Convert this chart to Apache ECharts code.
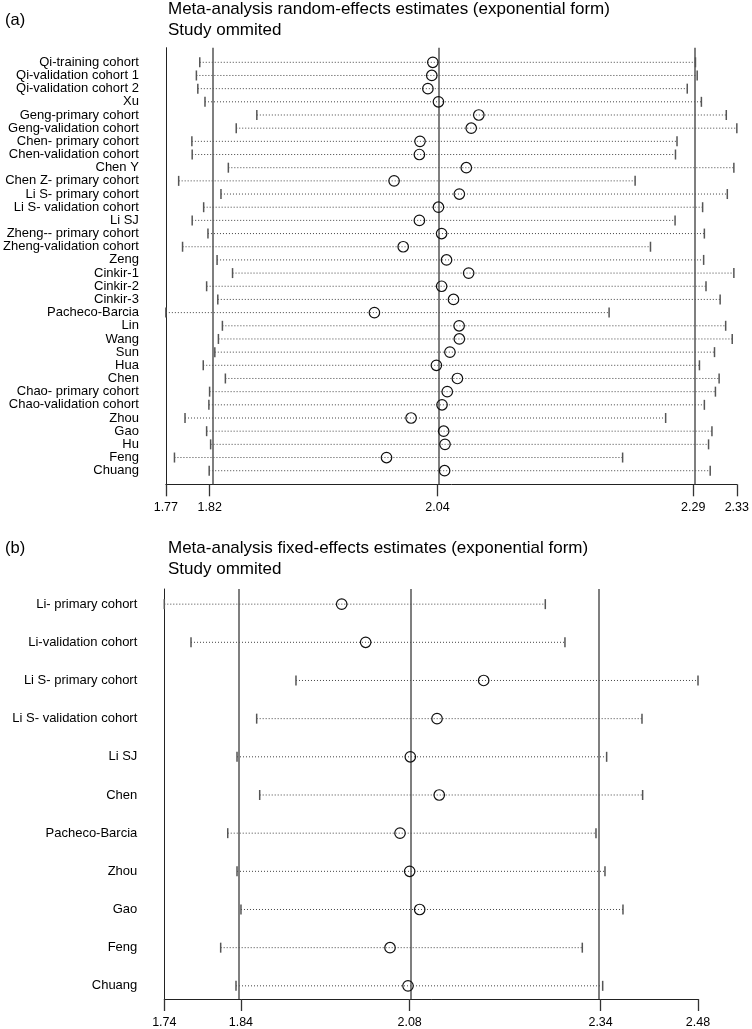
<!DOCTYPE html>
<html><head><meta charset="utf-8">
<script src="https://cdn.jsdelivr.net/npm/echarts@6/dist/echarts.min.js"></script>
<style>html,body{margin:0;padding:0;background:#fff}#c{width:752px;height:1029px}</style>
</head><body><div id="c"></div>
<script>
// ---------- Panel (a): random-effects ----------
const studiesA = ['Qi-training cohort','Qi-validation cohort 1','Qi-validation cohort 2','Xu','Geng-primary cohort','Geng-validation cohort','Chen- primary cohort','Chen-validation cohort','Chen Y','Chen Z- primary cohort','Li S- primary cohort','Li S- validation cohort','Li SJ','Zheng-- primary cohort','Zheng-validation cohort','Zeng','Cinkir-1','Cinkir-2','Cinkir-3','Pacheco-Barcia','Lin','Wang','Sun','Hua','Chen','Chao- primary cohort','Chao-validation cohort','Zhou','Gao','Hu','Feng','Chuang'];
const lowerA = [1.8069,1.8036,1.8050,1.8120,1.8626,1.8425,1.7992,1.7995,1.8348,1.7863,1.8276,1.8107,1.7995,1.8149,1.7901,1.8238,1.8389,1.8136,1.8245,1.7738,1.8290,1.8251,1.8216,1.8103,1.8319,1.8165,1.8158,1.7925,1.8136,1.8175,1.7822,1.8161];
const estA = [2.0344,2.0334,2.0296,2.0399,2.0793,2.0719,2.0219,2.0213,2.0671,1.9966,2.0603,2.0399,2.0213,2.0430,2.0055,2.0478,2.0694,2.0430,2.0546,1.9774,2.0601,2.0603,2.0511,2.0379,2.0584,2.0485,2.0434,2.0132,2.0450,2.0463,1.9892,2.0459];
const upperA = [2.2908,2.2925,2.2828,2.2966,2.3209,2.3312,2.2728,2.2713,2.3283,2.2319,2.3219,2.2978,2.2709,2.2995,2.2469,2.2988,2.3283,2.3011,2.3149,2.2065,2.3203,2.3267,2.3094,2.2947,2.3139,2.3103,2.2995,2.2617,2.3069,2.3036,2.2197,2.3052];
const refA = [1.8166, 2.0389, 2.2886];   // overall CI lower, estimate, CI upper
const titleA = 'Meta-analysis random-effects estimates (exponential form)';

// ---------- Panel (b): fixed-effects ----------
const studiesB = ['Li- primary cohort','Li-validation cohort','Li S- primary cohort','Li S- validation cohort','Li SJ','Chen','Pacheco-Barcia','Zhou','Gao','Feng','Chuang'];
const lowerB = [1.7370,1.7741,1.9199,1.8653,1.8380,1.8695,1.8251,1.8380,1.8435,1.8153,1.8366];
const estB = [1.9834,2.0167,2.1806,2.1158,2.0787,2.1189,2.0644,2.0778,2.0917,2.0505,2.0755];
const upperB = [2.2662,2.2935,2.4783,2.4005,2.3514,2.4014,2.3366,2.3491,2.3741,2.3176,2.3459];
const refB = [1.8434, 2.0778, 2.3430];
const titleB = 'Meta-analysis fixed-effects estimates (exponential form)';

const subTitle = 'Study ommited';
const panelLabels = ['(a)', '(b)'];

const FONT = '"Liberation Sans", Arial, Helvetica, sans-serif';

function ciRender(params, api) {
  const row = api.value(0);
  const lo = api.coord([api.value(1), row]);
  const hi = api.coord([api.value(2), row]);
  const h = 5;
  return {
    type: 'group',
    children: [
      { type: 'line', shape: { x1: lo[0], y1: lo[1], x2: hi[0], y2: hi[1] },
        style: { stroke: '#444', lineWidth: 1, lineDash: [1, 2] } },
      { type: 'line', shape: { x1: lo[0], y1: lo[1] - h, x2: lo[0], y2: lo[1] + h },
        style: { stroke: '#555', lineWidth: 1.5 } },
      { type: 'line', shape: { x1: hi[0], y1: hi[1] - h, x2: hi[0], y2: hi[1] + h },
        style: { stroke: '#555', lineWidth: 1.5 } }
    ]
  };
}

function buildPanel(idx, studies, lower, est, upper, refs, yMin, yMax) {
  const xMin = Math.min(...lower), xMax = Math.max(...upper);
  const tickVals = [xMin, ...refs, xMax];
  const rows = studies.map((_, i) => i);
  const xAxis = {
    gridIndex: idx, type: 'value', min: xMin, max: xMax,
    axisLine: { show: true, onZero: false, lineStyle: { color: '#222', width: 1 } },
    axisTick: { show: true, customValues: tickVals, length: 12, lineStyle: { color: '#333', width: 1.3 } },
    axisLabel: { customValues: tickVals, formatter: v => v.toFixed(2), color: '#000', fontSize: 12.5, fontFamily: FONT, margin: 17 },
    splitLine: { show: false }
  };
  const yAxis = {
    gridIndex: idx, type: 'value', inverse: true, min: yMin, max: yMax,
    axisLine: { show: true, onZero: false, lineStyle: { color: '#222', width: 1 } },
    axisTick: { show: false },
    axisLabel: { customValues: rows, formatter: v => studies[Math.round(v)], color: '#000', fontSize: 13, fontFamily: FONT, margin: 27 },
    splitLine: { show: false }
  };
  const series = [
    {
      type: 'custom', xAxisIndex: idx, yAxisIndex: idx,
      renderItem: ciRender,
      encode: { x: [1, 2], y: 0 },
      data: rows.map(i => [i, lower[i], upper[i]]),
      silent: true, z: 2,
      markLine: {
        symbol: 'none', silent: true, label: { show: false },
        lineStyle: { color: '#555', width: 1.5, type: 'solid' },
        data: refs.map(v => ({ xAxis: v }))
      }
    },
    {
      type: 'scatter', xAxisIndex: idx, yAxisIndex: idx,
      symbol: 'circle', symbolSize: 10.5,
      itemStyle: { color: 'rgba(0,0,0,0)', borderColor: '#111', borderWidth: 1.2, opacity: 1 },
      data: rows.map(i => [est[i], i]), z: 5, silent: true
    }
  ];
  return { xAxis, yAxis, series };
}

const pA = buildPanel(0, studiesA, lowerA, estA, upperA, refA, -1.108, 32.032);
const pB = buildPanel(1, studiesB, lowerB, estB, upperB, refB, -0.3967, 10.3448);

const titleStyle = { fontSize: 17, fontWeight: 'normal', color: '#000', fontFamily: FONT, lineHeight: 21 };
const labelStyle = { fontSize: 16.5, fontWeight: 'normal', color: '#000', fontFamily: FONT, lineHeight: 18 };

const option = {
  backgroundColor: '#fff',
  animation: false,
  title: [
    { text: titleA + '\n' + subTitle, left: 168, top: -1, padding: 0, textStyle: titleStyle },
    { text: panelLabels[0], left: 5, top: 11, padding: 0, textStyle: labelStyle },
    { text: titleB + '\n' + subTitle, left: 168, top: 538, padding: 0, textStyle: titleStyle },
    { text: panelLabels[1], left: 5, top: 539, padding: 0, textStyle: labelStyle }
  ],
  grid: [
    { left: 163, top: 47.7, width: 579.4, height: 436.6, containLabel: false },
    { left: 164.3, top: 589, width: 533.7, height: 414.3, containLabel: false }
  ],
  xAxis: [pA.xAxis, pB.xAxis],
  yAxis: [pA.yAxis, pB.yAxis],
  series: [...pA.series, ...pB.series]
};

const chart = echarts.init(document.getElementById('c'), null, { renderer: 'canvas' });
chart.setOption(option);
</script>
</body></html>
